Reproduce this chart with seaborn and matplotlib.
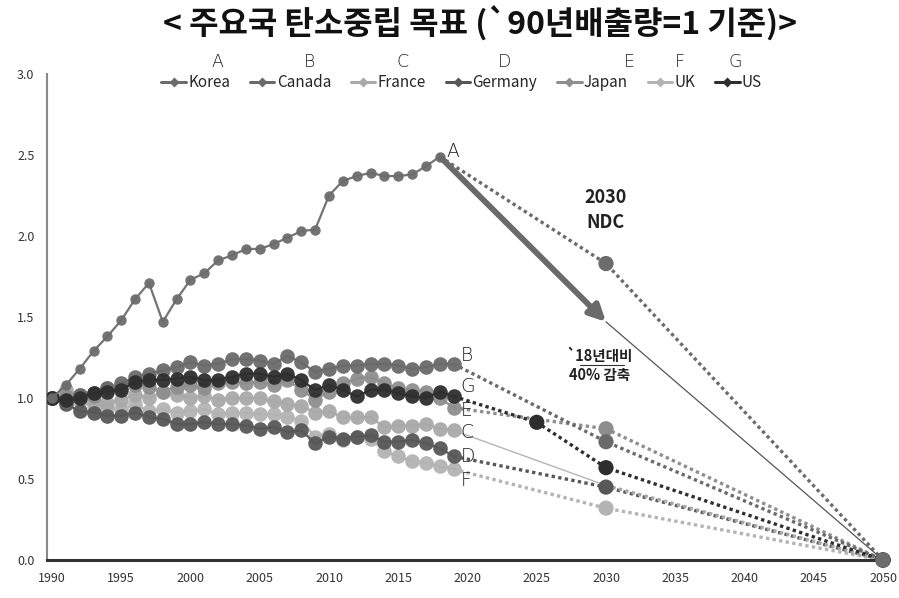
import numpy as np
import pandas as pd
import matplotlib
matplotlib.use("Agg")
import matplotlib.pyplot as plt
import seaborn as sns

# ---------------- data ----------------
countries = ["Korea", "Canada", "France", "Germany", "Japan", "UK", "US"]
letters = ["A", "B", "C", "D", "E", "F", "G"]

years_korea = list(range(1990, 2019))
years_other = list(range(1990, 2020))

korea = [1.00, 1.08, 1.18, 1.29, 1.38, 1.48, 1.61, 1.71, 1.47, 1.61, 1.73, 1.77, 1.85, 1.88, 1.92,
         1.92, 1.95, 1.99, 2.03, 2.04, 2.25, 2.34, 2.37, 2.39, 2.37, 2.37, 2.38, 2.43, 2.49]
canada = [1.00, 0.98, 1.02, 1.03, 1.06, 1.09, 1.13, 1.15, 1.17, 1.19, 1.22, 1.20, 1.21, 1.24, 1.24,
          1.23, 1.21, 1.26, 1.22, 1.16, 1.18, 1.20, 1.20, 1.21, 1.21, 1.20, 1.18, 1.19, 1.21, 1.21]
france = [1.00, 1.05, 1.02, 0.98, 0.97, 0.99, 1.02, 1.00, 1.04, 1.02, 1.00, 1.01, 0.99, 1.00, 1.00,
          1.00, 0.98, 0.96, 0.95, 0.91, 0.92, 0.88, 0.88, 0.88, 0.82, 0.83, 0.83, 0.84, 0.81, 0.80]
germany = [1.00, 0.96, 0.92, 0.91, 0.89, 0.89, 0.91, 0.88, 0.87, 0.84, 0.84, 0.85, 0.84, 0.84, 0.83,
           0.81, 0.82, 0.79, 0.80, 0.72, 0.76, 0.75, 0.76, 0.77, 0.73, 0.73, 0.74, 0.72, 0.69, 0.64]
japan = [1.00, 1.01, 1.02, 1.01, 1.06, 1.07, 1.08, 1.07, 1.04, 1.07, 1.08, 1.06, 1.09, 1.10, 1.09,
         1.10, 1.08, 1.11, 1.05, 0.99, 1.04, 1.09, 1.12, 1.13, 1.09, 1.06, 1.05, 1.04, 1.00, 0.94]
uk = [1.00, 1.01, 0.98, 0.95, 0.94, 0.93, 0.96, 0.92, 0.93, 0.91, 0.92, 0.93, 0.90, 0.91, 0.91,
      0.90, 0.90, 0.88, 0.86, 0.76, 0.78, 0.74, 0.76, 0.75, 0.67, 0.64, 0.61, 0.60, 0.58, 0.56]
us = [1.00, 0.99, 1.00, 1.03, 1.04, 1.05, 1.10, 1.11, 1.11, 1.12, 1.13, 1.11, 1.11, 1.13, 1.15,
      1.15, 1.13, 1.15, 1.11, 1.05, 1.08, 1.05, 1.01, 1.05, 1.05, 1.03, 1.01, 1.00, 1.04, 1.01]

# projections (targets)
korea_proj_years = [2018, 2030, 2050]
korea_proj = [2.49, 1.83, 0.0]
korea_cut_years = [2018, 2030, 2050]      # '18 base -> 40% cut -> net zero
korea_cut = [2.49, 1.47, 0.0]
canada_proj_years = [2019, 2030, 2050]
canada_proj = [1.21, 0.73, 0.0]
france_proj_years = [2019, 2030, 2050]
france_proj = [0.80, 0.46, 0.0]
germany_proj_years = [2019, 2030, 2050]
germany_proj = [0.64, 0.45, 0.0]
japan_proj_years = [2019, 2030, 2050]
japan_proj = [0.94, 0.81, 0.0]
uk_proj_years = [2019, 2030, 2050]
uk_proj = [0.56, 0.32, 0.0]
us_proj_years = [2019, 2025, 2030, 2050]
us_proj = [1.01, 0.85, 0.57, 0.0]

x_ticks = list(range(1990, 2051, 5))
y_ticks = [0.0, 0.5, 1.0, 1.5, 2.0, 2.5, 3.0]

# ---------------- styles ----------------
colors = {"Korea": "#6c6c6c", "Canada": "#6a6a6a", "France": "#a9a9a9", "Germany": "#575757",
          "Japan": "#8e8e8e", "UK": "#b3b3b3", "US": "#2e2e2e"}
hist = {"Korea": (years_korea, korea), "Canada": (years_other, canada),
        "France": (years_other, france), "Germany": (years_other, germany),
        "Japan": (years_other, japan), "UK": (years_other, uk), "US": (years_other, us)}
proj = {"Canada": (canada_proj_years, canada_proj), "France": (france_proj_years, france_proj),
        "Germany": (germany_proj_years, germany_proj), "Japan": (japan_proj_years, japan_proj),
        "UK": (uk_proj_years, uk_proj), "US": (us_proj_years, us_proj),
        "Korea": (korea_proj_years, korea_proj)}

sns.set_theme(style="white")
plt.rcParams["font.family"] = ["Noto Sans CJK KR", "DejaVu Sans"]

fig = plt.figure(figsize=(8.99, 5.98), dpi=100)
ax = fig.add_axes([47 / 899, 1 - 560 / 598, (883 - 47) / 899, (560 - 74) / 598])

# projection lines (dotted) first, under history
order_proj = ["UK", "Germany", "France", "Japan", "Canada", "US", "Korea"]
for c in order_proj:
    yrs, vals = proj[c]
    df = pd.DataFrame({"year": yrs, "value": vals})
    if c == "France":
        sns.lineplot(data=df.iloc[:2], x="year", y="value", ax=ax, color="#b5b5b5", lw=1.0,
                     legend=False, zorder=2)
        sns.lineplot(data=df.iloc[1:], x="year", y="value", ax=ax, color=colors[c], lw=2.4,
                     linestyle=(0, (1, 1)), legend=False, zorder=2)
    else:
        sns.lineplot(data=df, x="year", y="value", ax=ax, color=colors[c], lw=2.4,
                     linestyle=(0, (1, 1)), legend=False, zorder=2)
        sns.scatterplot(data=df.iloc[1:], x="year", y="value", ax=ax, color=colors[c], s=120,
                        edgecolor="none", legend=False, zorder=4, clip_on=False)

# Korea 40% cut arrow + thin line to 2050
ax.annotate("", xy=(korea_cut_years[1], korea_cut[1]), xytext=(korea_cut_years[0], korea_cut[0]),
            arrowprops=dict(arrowstyle="-|>", lw=4.2, color="#6a6a6a", mutation_scale=24,
                            shrinkA=0, shrinkB=0), zorder=5)
sns.lineplot(x=korea_cut_years[1:], y=korea_cut[1:], ax=ax, color="#555555", lw=0.9,
             legend=False, zorder=2)

# historical lines
order_hist = ["UK", "France", "Japan", "Germany", "Canada", "US", "Korea"]
handles = {}
for c in order_hist:
    yrs, vals = hist[c]
    ms = 7.5 if c == "Korea" else 10.5
    sns.lineplot(x=yrs, y=vals, ax=ax, color=colors[c], lw=1.6, marker="o", markersize=ms,
                 markeredgecolor="none", legend=False, zorder=3, alpha=0.95)
    handles[c] = matplotlib.lines.Line2D([], [], color=colors[c], lw=2.2, marker="D",
                                         markersize=5.5, markeredgecolor="none")

# end labels A..G
end_offsets = {"Korea": (0.45, 0.03), "Canada": (0.5, 0.05), "France": (0.5, -0.01),
               "Germany": (0.5, 0.0), "Japan": (0.5, -0.02), "UK": (0.5, -0.07),
               "US": (0.5, 0.06)}
for c, L in zip(countries, letters):
    yrs, vals = hist[c]
    dx, dy = end_offsets[c]
    ax.text(yrs[-1] + dx, vals[-1] + dy, L, fontsize=13.5, fontweight="light", color="#222222",
            ha="left", va="center", family=["DejaVu Sans"], zorder=6)

# annotations
ax.text(2030, 2.16, "2030\nNDC", ha="center", va="center", fontsize=13, fontweight="bold",
        color="#222222", linespacing=1.35)
ax.text(2029.5, 1.20, "`18년대비\n40% 감축", ha="center", va="center", fontsize=10.5,
        fontweight="bold", color="#222222", linespacing=1.25)
ax.plot([2028.1, 2031.3], [1.205, 1.205], color="#333333", lw=0.8)

# axes styling
ax.set_xlim(1989.64, 2050.0)
ax.set_ylim(0, 3.0)
ax.set_xticks(x_ticks)
ax.set_yticks(y_ticks)
ax.set_xticklabels([str(t) for t in x_ticks], fontsize=9, color="#333333")
ax.set_yticklabels([f"{t:.1f}" for t in y_ticks], fontsize=9, color="#333333")
ax.tick_params(axis="both", length=0, pad=9)
ax.set_xlabel("")
ax.set_ylabel("")
for s in ["top", "right"]:
    ax.spines[s].set_visible(False)
ax.spines["left"].set_color("#888888")
ax.spines["left"].set_linewidth(1.5)
ax.spines["bottom"].set_color("#333333")
ax.spines["bottom"].set_linewidth(2.2)
ax.spines["bottom"].set_bounds(1989.64, 2049.6)
ax.grid(False)

leg = ax.legend([handles[c] for c in countries], countries, loc="center",
                bbox_to_anchor=(0.496, 0.982), ncol=7, frameon=False, fontsize=11,
                handlelength=1.6, handletextpad=0.15, columnspacing=1.3)

letter_x = [217, 310, 403, 505, 629, 680, 735]
for L, xp in zip(letters, letter_x):
    fig.text(xp / 899, 1 - 62 / 598, L, ha="center", va="center", fontsize=12.5,
             fontweight="light", color="#222222", family=["DejaVu Sans"])

fig.text(480 / 899, 1 - 24 / 598, "< 주요국 탄소중립 목표 (`90년배출량=1 기준)>", ha="center",
         va="center", fontsize=23, fontweight="bold", color="#111111")

fig.savefig("out.png", dpi=100, facecolor="white")
